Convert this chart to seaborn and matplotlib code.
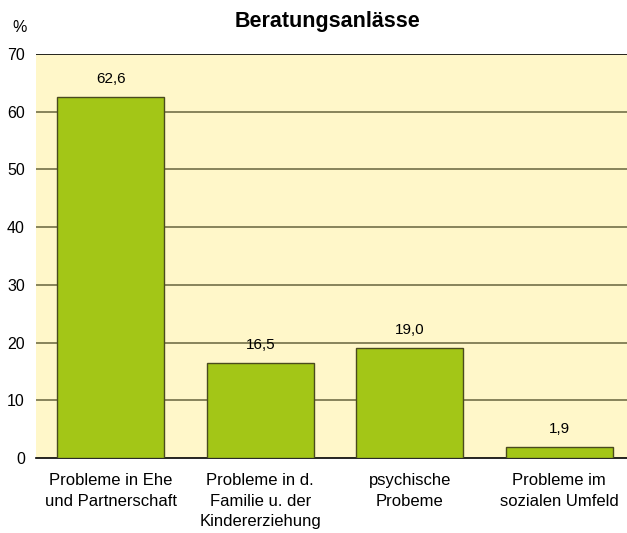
import matplotlib
matplotlib.use("Agg")
import matplotlib.pyplot as plt
import seaborn as sns
import pandas as pd

categories = ["Probleme in Ehe\nund Partnerschaft",
              "Probleme in d.\nFamilie u. der\nKindererziehung",
              "psychische\nProbeme",
              "Probleme im\nsozialen Umfeld"]
values = [62.6, 16.5, 19.0, 1.9]
value_labels = ["62,6", "16,5", "19,0", "1,9"]
yticks = [0, 10, 20, 30, 40, 50, 60, 70]

df = pd.DataFrame({"cat": categories, "val": values})

sns.set_style("white")
plt.rcParams["font.family"] = ["Liberation Sans", "DejaVu Sans"]
plt.rcParams["text.color"] = "black"
plt.rcParams["xtick.color"] = "black"
plt.rcParams["ytick.color"] = "black"

fig = plt.figure(figsize=(6.27, 5.33), dpi=100)
ax = fig.add_axes([36 / 627, 1 - 458 / 533, 598 / 627, 404 / 533])
ax.set_facecolor("#FFF7C9")

sns.barplot(data=df, x="cat", y="val", color="#A3C617", saturation=1,
            width=0.717, edgecolor="#4A4A1E", linewidth=1.0, ax=ax, zorder=3)

ax.set_ylim(0, 70)
ax.set_xlim(-0.5, 3.5)
ax.set_yticks(yticks)
ax.set_yticklabels([str(t) for t in yticks], fontsize=11.5)
for t in yticks[1:-1]:
    ax.axhline(t, color="#7E7A52", lw=1.3, zorder=1)
ax.axhline(70, color="black", lw=1.2, zorder=1)

for sp in ["left", "right", "top"]:
    ax.spines[sp].set_visible(False)
ax.spines["bottom"].set_color("black")
ax.spines["bottom"].set_linewidth(1.2)
ax.tick_params(axis="both", length=0)
ax.tick_params(axis="x", pad=11, labelsize=12)
ax.tick_params(axis="y", pad=8)
for lbl in ax.get_xticklabels():
    lbl.set_linespacing(1.45)
ax.set_xlabel("")
ax.set_ylabel("")

for i, (v, lab) in enumerate(zip(values, value_labels)):
    ax.annotate(lab, (i, v), xytext=(0, 8), textcoords="offset points",
                ha="center", va="bottom", fontsize=11)

fig.text(328 / 627, 1 - 21 / 533, "Beratungsanlässe", ha="center", va="center",
         fontsize=15.5, fontweight="bold")
fig.text(20 / 627, 1 - 27 / 533, "%", ha="center", va="center", fontsize=11.5)

fig.savefig("out.png", dpi=100)
